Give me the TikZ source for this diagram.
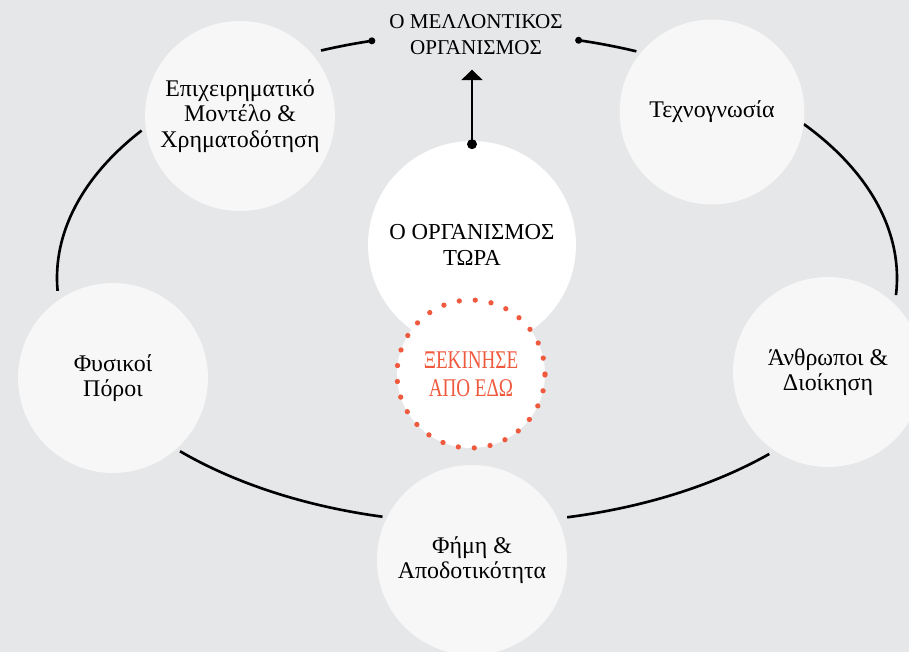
\documentclass[tikz,border=0pt]{standalone}
\usepackage{fontspec}
\setmainfont{Liberation Serif}
\newfontfamily\startfont[FakeStretch=0.75]{Liberation Serif}
\usetikzlibrary{arrows.meta,positioning}
\definecolor{bgrey}{HTML}{E6E7E9}
\definecolor{cwhite}{HTML}{F7F7F7}
\definecolor{startred}{HTML}{EF5A3E}

\tikzset{
  pillar/.style={circle, fill=cwhite, minimum size=3.8cm, inner sep=0pt, align=center,
    font=\fontsize{13.6}{14.4}\selectfont},
  loopline/.style={line width=1.5pt, black},
  dotcap/.style={fill=black},
}

\begin{document}
\begin{tikzpicture}[x=0.02cm, y=-0.02cm]
    \fill[bgrey] (0,0) rectangle (909,652);
    \useasboundingbox (0,0) rectangle (909,652);
    \clip (0,0) rectangle (909,652);

    % centre of the big loop
    \coordinate (loop) at (477,278);

    % loop segments
    \draw[loopline] ([shift={(-111.8:420 and 245)}]loop) arc[start angle=-111.8, end angle=-104.5, x radius=420, y radius=245] coordinate (capL);
    \draw[loopline] ([shift={(-76:420 and 245)}]loop) coordinate (capR) arc[start angle=-76, end angle=-67.7, x radius=420, y radius=245];
    \draw[loopline] ([shift={(-143:420 and 245)}]loop) arc[start angle=-143, end angle=-183, x radius=420, y radius=245];
    \draw[loopline] ([shift={(-38.9:420 and 245)}]loop) arc[start angle=-38.9, end angle=4, x radius=420, y radius=245];
    \draw[loopline] ([shift={(135:420 and 245)}]loop) arc[start angle=135, end angle=103, x radius=420, y radius=245];
    \draw[loopline] ([shift={(77.6:420 and 245)}]loop) arc[start angle=77.6, end angle=45.9, x radius=420, y radius=245];
    \fill[dotcap] (capL) circle[radius=3.5];
    \fill[dotcap] (capR) circle[radius=3.5];

    % pillars
    \node[pillar] (business) at (240,116) {Επιχειρηματικό\\Μοντέλο \&\\Χρηματοδότηση};
    \node[pillar, minimum size=3.7cm] (knowhow) at (712,112) {Τεχνογνωσία};
    \node[pillar] (resources) at (113,378) {Φυσικοί\\Πόροι};
    \node[pillar] (people) at (828,372) {Άνθρωποι \&\\Διοίκηση};
    \node[pillar] (fame) at (472,560) {Φήμη \&\\Αποδοτικότητα};

    % now and start
    \node[pillar, fill=white, minimum size=4.16cm, font=\fontsize{13}{14.4}\selectfont] (now) at (472,245) {Ο ΟΡΓΑΝΙΣΜΟΣ\\ΤΩΡΑ};
    \node[circle, fill=white, minimum size=2.96cm, inner sep=0pt, align=center,
      text=startred, font=\startfont\fontsize{14.5}{16}\selectfont] (start) at (471,374) {ΞΕΚΙΝΗΣΕ\\ΑΠΟ ΕΔΩ};
    \draw[startred, line width=3pt, line cap=round, dash pattern=on 0pt off 0.32cm]
      (start) circle[radius=1.48cm];

    % future
    \node[align=center, font=\fontsize{12}{14.8}\selectfont, inner sep=1pt] (future) at (476,35) {Ο ΜΕΛΛΟΝΤΙΚΟΣ\\ΟΡΓΑΝΙΣΜΟΣ};
    \fill[dotcap] ([yshift=-2pt]now.north) circle[radius=5];
    \draw[line width=1.6pt, -{Triangle[width=12pt, length=6pt]}, shorten >=0.25cm]
      ([yshift=-2pt]now.north) -- (now.north |- future.south);
\end{tikzpicture}
\end{document}
